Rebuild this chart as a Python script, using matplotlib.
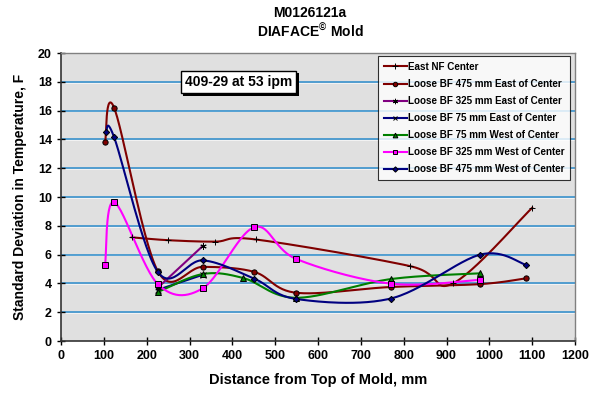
import numpy as np
import matplotlib.pyplot as plt
from matplotlib import patheffects

plt.rcParams['font.family'] = ['Liberation Sans', 'DejaVu Sans']
plt.rcParams['font.weight'] = 'bold'
plt.rcParams['mathtext.fontset'] = 'custom'
plt.rcParams['mathtext.rm'] = 'Liberation Sans:bold'
plt.rcParams['mathtext.bf'] = 'Liberation Sans:bold'

# distance from top of mold (mm) and std dev of temperature (F)
x_nf = [165, 250, 360, 455, 815, 915, 1100]
y_nf = [7.2, 7.0, 6.9, 7.05, 5.2, 4.0, 9.25]

x_475e = [103, 124, 226, 331, 451, 549, 770, 979, 1085]
y_475e = [13.8, 16.2, 4.85, 5.15, 4.8, 3.35, 3.75, 3.95, 4.35]

x_325e = [226, 331]
y_325e = [3.7, 6.6]

x_75e = [226, 331]
y_75e = [3.55, 4.6]

x_75w = [226, 331, 426, 549, 770, 979]
y_75w = [3.4, 4.65, 4.37, 3.0, 4.3, 4.7]

x_325w = [103, 124, 226, 331, 451, 549, 770, 979]
y_325w = [5.3, 9.65, 3.95, 3.66, 7.9, 5.7, 3.98, 4.25]

x_475w = [105, 124, 226, 331, 451, 549, 770, 979, 1085]
y_475w = [14.5, 14.15, 4.8, 5.6, 4.33, 2.92, 2.95, 6.0, 5.3]

series = [
    ('East NF Center', x_nf, y_nf, '#800000', '+', '#000000', 5),
    ('Loose BF 475 mm East of Center', x_475e, y_475e, '#800000', 'o', '#800000', 3.8),
    ('Loose BF 325 mm East of Center', x_325e, y_325e, '#800080', (6, 2, 0), '#800080', 4.5),
    ('Loose BF 75 mm East of Center', x_75e, y_75e, '#000080', 'x', '#000080', 4),
    ('Loose BF 75 mm West of Center', x_75w, y_75w, '#008000', '^', '#008000', 4),
    ('Loose BF 325 mm West of Center', x_325w, y_325w, '#FF00FF', 's', '#FF00FF', 4),
    ('Loose BF 475 mm West of Center', x_475w, y_475w, '#000080', 'D', '#000080', 3.2),
]


def smooth(x, y, n=30):
    # Catmull-Rom style Bezier smoothing through the points
    p = np.column_stack([x, y]).astype(float)
    if len(p) < 3:
        return p[:, 0], p[:, 1]
    ext = np.vstack([p[0], p, p[-1]])
    t = np.linspace(0, 1, n)[:, None]
    out = []
    for i in range(1, len(ext) - 2):
        p0, p3 = ext[i], ext[i + 1]
        c1 = p0 + (ext[i + 1] - ext[i - 1]) / 6
        c2 = p3 - (ext[i + 2] - ext[i]) / 6
        seg = ((1 - t) ** 3) * p0 + 3 * ((1 - t) ** 2) * t * c1 + 3 * (1 - t) * t ** 2 * c2 + t ** 3 * p3
        out.append(seg if i == 1 else seg[1:])
    out = np.vstack(out)
    return out[:, 0], out[:, 1]


fig = plt.figure(figsize=(6.01, 4.0), dpi=100)
ax = fig.add_axes([61 / 601, 1 - 341 / 400, 514 / 601, 288 / 400])
ax.set_facecolor('#E0E0E0')

for yg in range(2, 20, 2):
    ax.axhline(yg - 0.06, color='#FFFFFF', lw=0.8, alpha=0.6, zorder=1)
    ax.axhline(yg, color='#2A8BCB', lw=1.1, zorder=1)

for label, xs, ys, col, mk, mcol, ms in series:
    sx, sy = smooth(xs, ys)
    ax.plot(sx, sy, color=col, lw=1.5, zorder=3)
    ax.plot(xs, ys, ls='none', marker=mk, ms=ms, mfc=mcol, mec='#000000',
            mew=0.7, zorder=4)
    ax.plot([], [], color=col, lw=1.5, marker=mk, ms=ms * 0.85, mfc=mcol,
            mec='#000000', mew=0.7, label=label)

ax.set_xlim(0, 1200)
ax.set_ylim(0, 20)
ax.set_xticks(range(0, 1201, 100))
ax.set_yticks(range(0, 21, 2))
ax.tick_params(direction='inout', length=6, width=1, labelsize=9, colors='#000000')
for lab in ax.get_xticklabels() + ax.get_yticklabels():
    lab.set_fontweight('bold')
for s in ['top', 'right']:
    ax.spines[s].set_color('#808080')
    ax.spines[s].set_linewidth(1)
for s in ['left', 'bottom']:
    ax.spines[s].set_color('#333333')
    ax.spines[s].set_linewidth(1.2)

ax.set_xlabel('Distance from Top of Mold, mm', fontsize=10.5, fontweight='bold', labelpad=8)
ax.set_ylabel('Standard Deviation in Temperature, F', fontsize=10, fontweight='bold', labelpad=8)

leg = ax.legend(loc='upper left', bbox_to_anchor=(0.617, 0.988), borderaxespad=0,
                fontsize=7.1, frameon=True, fancybox=False, handlelength=2.4,
                handletextpad=0.1, labelspacing=0.72, borderpad=0.55)
leg.get_frame().set_edgecolor('#000000')
leg.get_frame().set_linewidth(0.8)
for t in leg.get_texts():
    t.set_fontweight('bold')

# annotation box with drop shadow
note = ax.text(414, 18.0, '409-29 at 53 ipm', fontsize=10, fontweight='bold',
               ha='center', va='center', zorder=6,
               bbox=dict(boxstyle='square,pad=0.3', fc='#FFFFFF', ec='#000000', lw=1))
note.get_bbox_patch().set_path_effects([
    patheffects.SimplePatchShadow(offset=(2, -2), shadow_rgbFace='#000000', alpha=1),
    patheffects.Normal()])

fig.text(310 / 601, 1 - 13 / 400, 'M0126121a', ha='center', va='center',
         fontsize=10, fontweight='bold')
fig.text(310 / 601, 1 - 31 / 400, r'DIAFACE$^{©}$ Mold', ha='center', va='center',
         fontsize=10, fontweight='bold')

fig.savefig('out.png', dpi=100)
